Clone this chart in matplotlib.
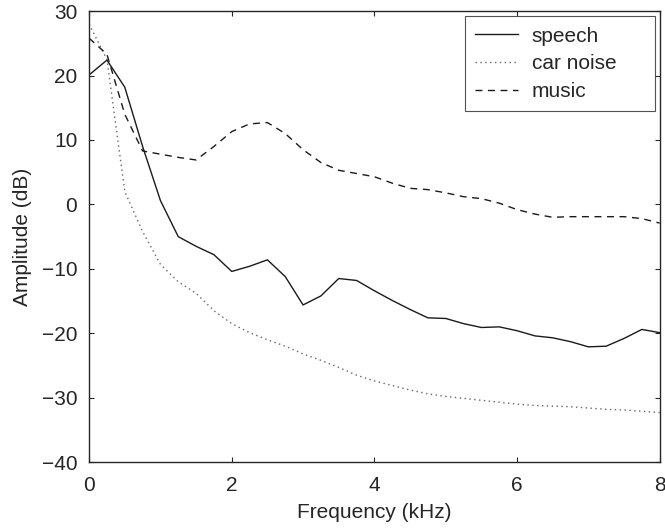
import numpy as np
import matplotlib
matplotlib.use("Agg")
import matplotlib.pyplot as plt

plt.rcParams['font.family'] = ['Liberation Sans', 'DejaVu Sans']

freq = [0, 0.25, 0.5, 0.75, 1.0, 1.25, 1.5, 1.75, 2.0, 2.25, 2.5, 2.75, 3.0, 3.25, 3.5, 3.75,
        4.0, 4.25, 4.5, 4.75, 5.0, 5.25, 5.5, 5.75, 6.0, 6.25, 6.5, 6.75, 7.0, 7.25, 7.5, 7.75, 8.0]
speech = [20.1, 22.4, 18.2, 9.0, 0.6, -5.0, -6.5, -7.8, -10.4, -9.6, -8.6, -11.2, -15.6, -14.2, -11.5, -11.8,
          -13.4, -14.9, -16.3, -17.6, -17.7, -18.5, -19.1, -19.0, -19.6, -20.4, -20.7, -21.3, -22.1, -22.0, -20.8, -19.4, -19.9]
car_noise = [28.0, 22.5, 2.0, -4.2, -9.3, -12.0, -13.8, -16.5, -18.5, -19.9, -21.0, -22.0, -23.2, -24.2, -25.3, -26.5,
             -27.4, -28.1, -28.8, -29.4, -29.8, -30.1, -30.4, -30.7, -31.0, -31.2, -31.3, -31.4, -31.6, -31.8, -31.9, -32.1, -32.3]
music = [25.8, 23.3, 14.0, 8.3, 7.8, 7.3, 6.9, 9.0, 11.3, 12.5, 12.7, 11.0, 8.5, 6.5, 5.3, 4.8,
         4.3, 3.3, 2.5, 2.3, 1.8, 1.2, 0.9, 0.2, -0.8, -1.5, -2.0, -1.9, -1.9, -1.9, -1.9, -2.2, -2.9]

xticks = [0, 2, 4, 6, 8]
yticks = [-40, -30, -20, -10, 0, 10, 20, 30]

FS = 15
TXT = '#262626'

fig = plt.figure(figsize=(6.65, 5.3), dpi=100)
ax = fig.add_axes([0.134, 0.128, 0.858, 0.851])
ax.plot(freq, speech, color='#1a1a1a', lw=1.0, ls='-', label='speech')
ax.plot(freq, car_noise, color='#666666', lw=1.0, ls=(0, (1, 2.5)), label='car noise')
ax.plot(freq, music, color='#1a1a1a', lw=1.0, ls=(0, (5, 4)), label='music')
ax.set_xlim(0, 8)
ax.set_ylim(-40, 30)
ax.set_xticks(xticks)
ax.set_yticks(yticks)
ax.set_yticklabels([str(t).replace('-', '\u2212') for t in yticks])
ax.tick_params(direction='in', length=3.5, labelsize=FS, top=True, right=True, width=0.8,
               colors=TXT, labelcolor=TXT)
ax.tick_params(axis='x', pad=10)
ax.tick_params(axis='y', pad=8.5)
for s in ax.spines.values():
    s.set_linewidth(1.0)
    s.set_color(TXT)
ax.set_xlabel('Frequency (kHz)', fontsize=FS, color=TXT, labelpad=6)
ax.set_ylabel('Amplitude (dB)', fontsize=FS, color=TXT, labelpad=7)
leg = ax.legend(loc='upper left', fontsize=FS, frameon=True, fancybox=False,
                bbox_to_anchor=(0.6585, 0.5, 0.3327, 0.489), mode='expand',
                edgecolor=TXT, handlelength=2.05, handletextpad=0.67,
                borderaxespad=0.0, borderpad=0.5, labelspacing=0.42)
leg.get_frame().set_linewidth(0.8)
for t in leg.get_texts():
    t.set_color(TXT)
fig.savefig('out.png', dpi=100)
